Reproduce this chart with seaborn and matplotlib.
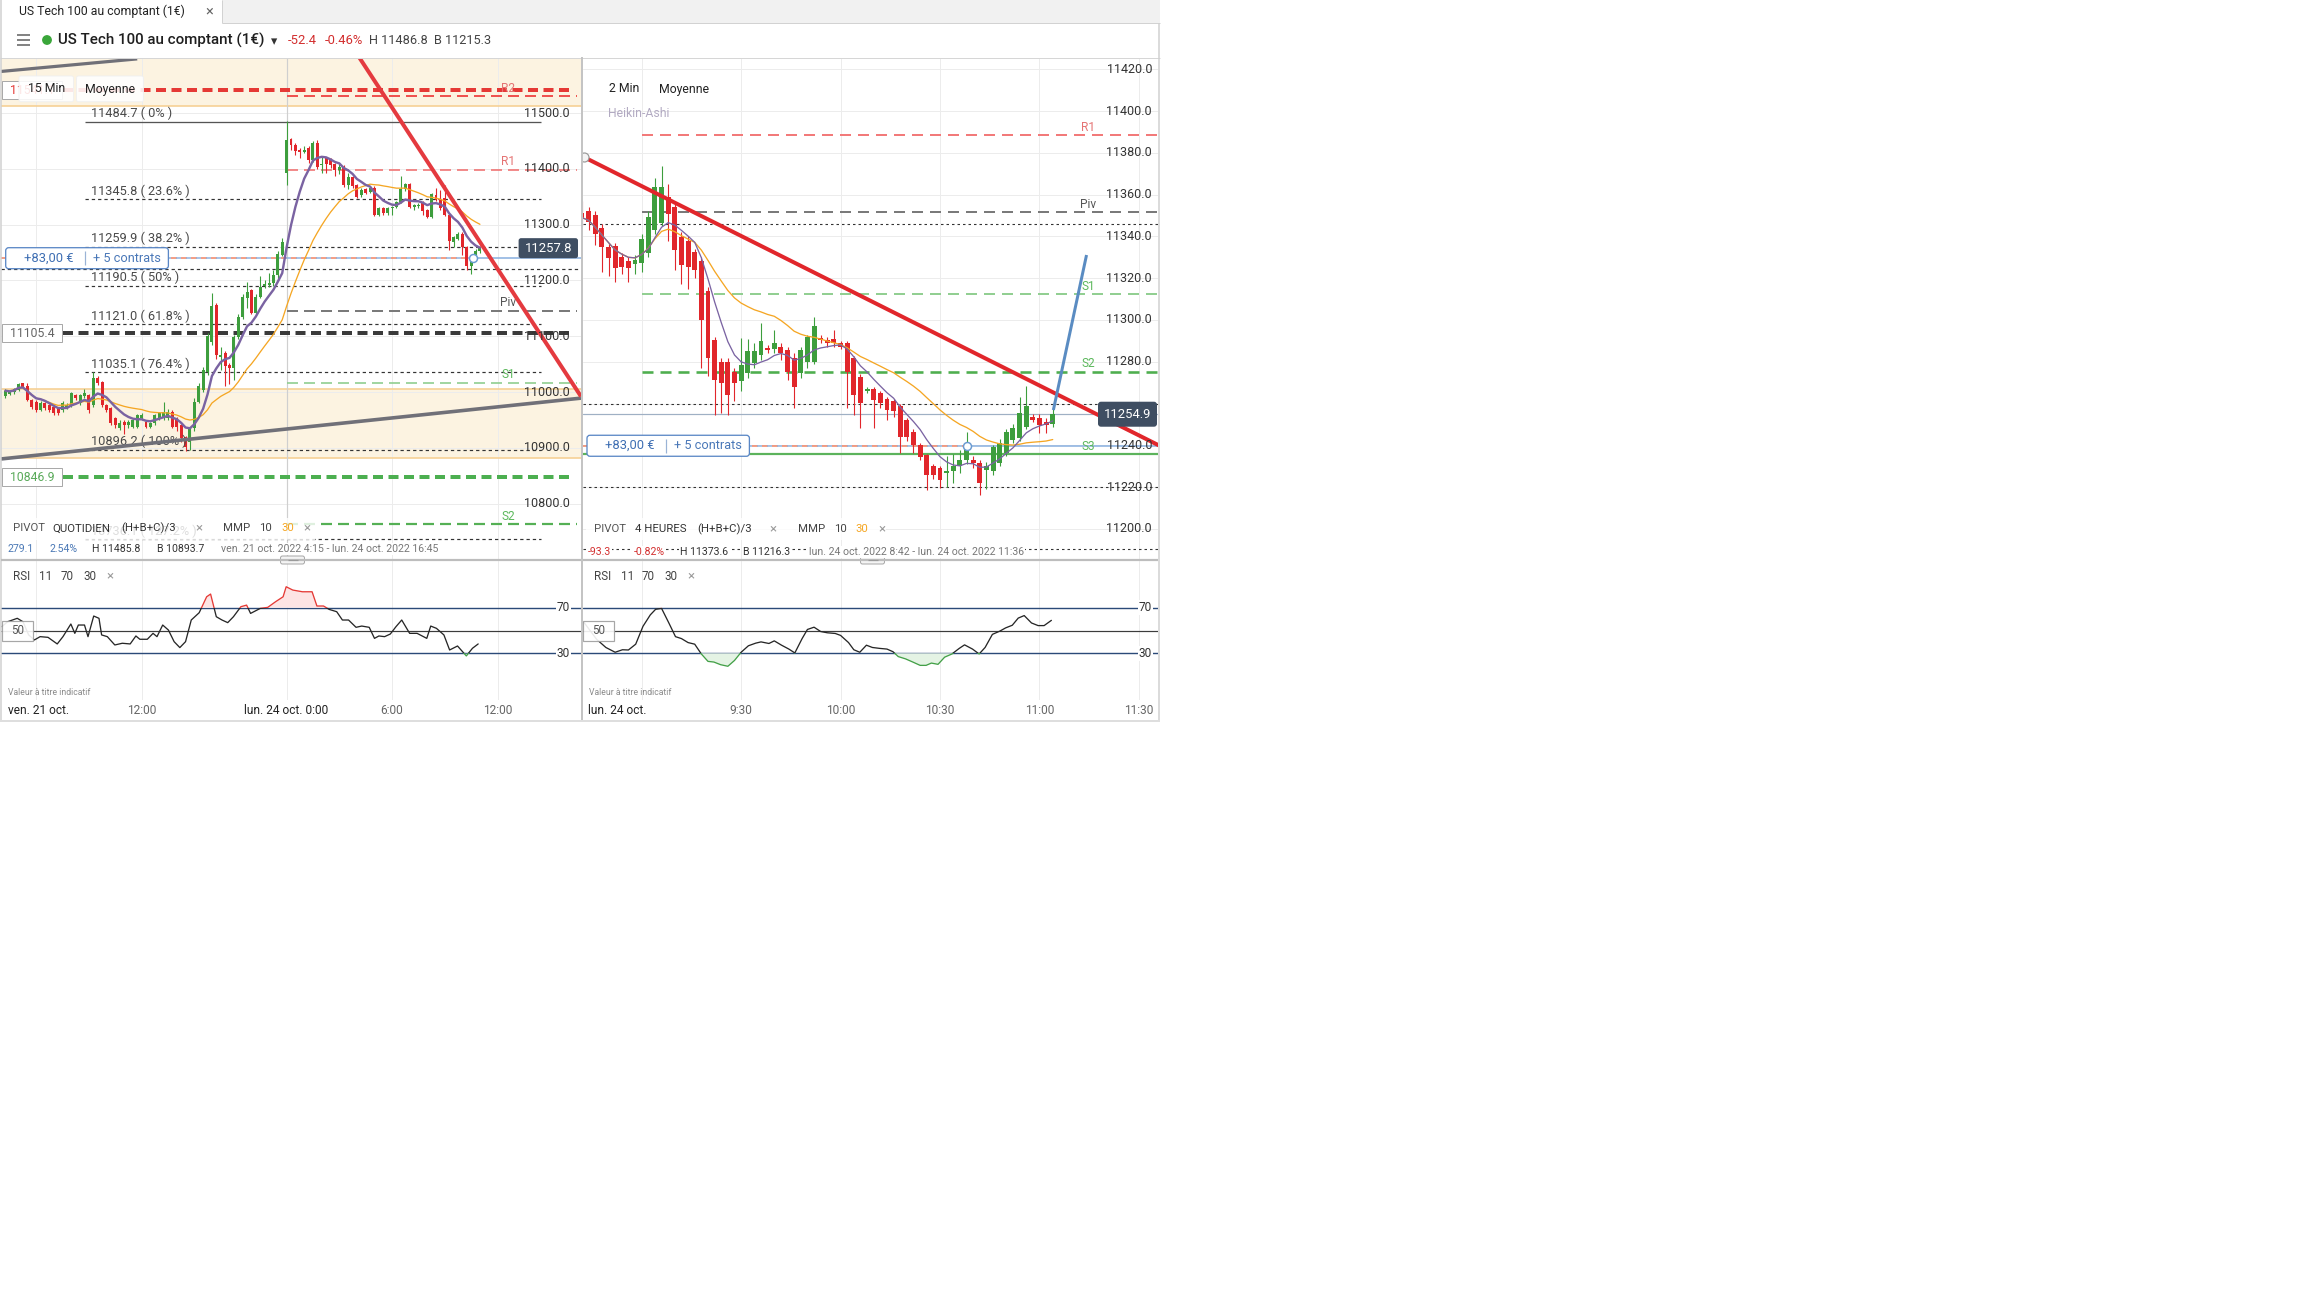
import numpy as np
import pandas as pd
import matplotlib
matplotlib.use("Agg")
import matplotlib.pyplot as plt
import seaborn as sns
from matplotlib.patches import Rectangle, FancyBboxPatch, Circle

sns.set_theme(style="white")
plt.rcParams["font.family"] = ["Roboto", "DejaVu Sans"]
plt.rcParams["lines.scale_dashes"] = False

W, H = 2304, 1296

# ---------------- 15-minute candles: ven. 21 oct. 4:15 -> lun. 24 oct. 11:00 ----------------
# slot index in 15-minute steps, lun. 24 oct. 0:00 is slot 65
m15_pos = list(range(1, 110))
m15_open = [
    10992.8, 10996.4, 10999.4, 11003.5, 11015.5, 11011.0, 10985.6, 10982.6, 10967.7, 10979.6,
    10976.6, 10973.7, 10970.7, 10967.7, 10973.7, 10976.6, 10994.6, 10979.6, 10992.8, 10994.6,
    10976.6, 11024.4, 11018.5, 10976.6, 10970.7, 10952.8, 10934.8, 10946.8, 10940.8, 10937.8,
    10937.8, 10952.8, 10946.8, 10937.8, 10943.8, 10952.8, 10952.8, 10952.8, 10964.7, 10952.8,
    10940.8, 10919.9, 10910.9, 10934.8, 10982.6, 11004.0, 11036.0, 11090.0, 11156.0, 11063.6,
    11070.0, 11049.0, 11043.0, 11099.0, 11135.0, 11168.0, 11182.0, 11142.0, 11171.0, 11190.0,
    11192.0, 11195.0, 11209.0, 11246.0, 11393.0, 11453.0, 11443.0, 11434.0, 11430.0, 11437.0,
    11416.0, 11446.0, 11406.0, 11419.0, 11416.0, 11408.0, 11398.0, 11404.0, 11371.0, 11386.0,
    11371.0, 11353.0, 11364.0, 11359.0, 11365.0, 11318.0, 11330.0, 11320.0, 11330.0, 11332.0,
    11340.0, 11364.0, 11372.0, 11332.0, 11334.0, 11340.0, 11326.0, 11314.0, 11353.0, 11346.0,
    11347.0, 11317.0, 11268.0, 11275.0, 11284.0, 11259.0, 11225.0, 11241.0, 11253.0]
m15_high = [
    11006, 11004, 11008, 11016.7, 11017, 11016, 10988, 10985, 10984, 10982,
    10979, 10976, 10973, 10983, 10980, 11000, 10997, 10997, 11005, 10997,
    11036.4, 11028, 11020, 10979, 10973, 10955, 10950, 10949, 10950, 10952,
    10961, 10962, 10949, 10946, 10961, 10964, 10982.6, 10970, 10967, 10955,
    10943, 10922, 10938, 10990, 11016, 11045, 11105, 11177, 11160, 11080,
    11073, 11052, 11102, 11140, 11176, 11198, 11185, 11176, 11208, 11200,
    11213, 11218, 11252, 11276, 11485.8, 11456, 11446, 11437, 11440, 11440,
    11450, 11451, 11422, 11422, 11420, 11410, 11410, 11406, 11392, 11388,
    11373, 11365, 11366, 11368, 11370, 11332, 11332, 11332, 11333, 11342,
    11388, 11375, 11374, 11337, 11338, 11342, 11328, 11356, 11366, 11362,
    11371, 11320, 11280, 11286, 11286, 11261, 11243, 11256, 11261]
m15_low = [
    10990, 10994, 10997, 11002, 11007, 10983, 10970, 10965, 10966, 10968,
    10965, 10958, 10958, 10965, 10970, 10974, 10985, 10976, 10990, 10962,
    10974, 11012, 10973, 10964, 10940, 10935, 10932, 10924.7, 10936, 10935,
    10935, 10950, 10935, 10935, 10941, 10950, 10950, 10950, 10935, 10930,
    10910, 10893.7, 10896, 10930, 10980, 11000, 11030, 11085, 11060, 11040,
    11010, 11015, 11022, 11095, 11130, 11150, 11140, 11140, 11168, 11186,
    11188, 11190, 11200, 11244, 11371, 11434, 11425, 11419, 11428, 11410,
    11413, 11400, 11392, 11392, 11402, 11387, 11390, 11367, 11363, 11366,
    11347, 11350, 11354, 11356, 11316, 11315, 11318, 11318, 11318, 11330,
    11338, 11360, 11330, 11326, 11330, 11318, 11312, 11312, 11342, 11327,
    11316, 11254, 11260, 11272, 11245, 11218, 11212, 11238, 11250]
m15_close = [
    11002.3, 11000.5, 11004.7, 11014.3, 11009.5, 10985.6, 10973.7, 10967.7, 10980.8, 10970.7,
    10967.7, 10961.7, 10961.7, 10979.6, 10976.6, 10997.6, 10988.6, 10994.6, 10997.6, 10967.7,
    11024.4, 11015.5, 10976.6, 10967.7, 10943.8, 10940.8, 10943.8, 10940.8, 10946.8, 10949.8,
    10958.7, 10958.7, 10937.8, 10943.8, 10958.7, 10961.7, 10964.7, 10964.7, 10937.8, 10937.8,
    10916.9, 10902.0, 10934.8, 10982.6, 11010.0, 11040.0, 11100.0, 11154.0, 11067.0, 11066.6,
    11046.0, 11043.0, 11099.0, 11135.0, 11171.0, 11180.0, 11142.0, 11171.0, 11189.0, 11194.0,
    11196.0, 11210.0, 11248.0, 11268.0, 11451.0, 11443.0, 11432.0, 11431.0, 11434.0, 11416.0,
    11446.0, 11404.0, 11408.0, 11408.0, 11407.0, 11398.0, 11404.0, 11371.0, 11386.0, 11370.0,
    11350.0, 11362.0, 11356.0, 11365.0, 11318.0, 11330.0, 11320.0, 11330.0, 11331.0, 11340.0,
    11364.0, 11372.0, 11332.0, 11335.0, 11336.0, 11325.0, 11314.0, 11354.0, 11344.0, 11329.0,
    11318.0, 11270.0, 11278.0, 11284.0, 11259.0, 11225.0, 11241.0, 11253.0, 11257.8]

# ---------------- 2-minute Heikin-Ashi candles: lun. 24 oct. 8:42 -> 11:04 ----------------
m2_pos = list(range(0, 72))
m2_open = [
    11351.0, 11352.0, 11350.2, 11343.9, 11335.1, 11335.6, 11330.3, 11328.4, 11326.6, 11327.1,
    11331.9, 11343.1, 11346.3, 11359.0, 11354.2, 11339.9, 11337.8, 11332.4, 11328.0, 11314.0,
    11290.5, 11280.1, 11280.1, 11275.3, 11270.9, 11274.8, 11279.3, 11283.3, 11286.5, 11286.0,
    11287.3, 11285.7, 11281.7, 11274.5, 11280.0, 11280.1, 11291.3, 11290.5, 11290.8, 11288.9,
    11288.9, 11281.7, 11272.9, 11266.2, 11266.9, 11264.9, 11262.1, 11261.0, 11258.6, 11252.2,
    11246.6, 11240.2, 11235.4, 11229.9, 11229.1, 11226.7, 11227.5, 11229.9, 11233.0, 11233.0,
    11231.4, 11228.3, 11227.5, 11231.4, 11236.2, 11242.6, 11243.4, 11249.0, 11253.8, 11253.0,
    11251.4, 11250.3]
m2_high = [
    11357, 11354, 11352, 11346, 11337, 11337, 11332, 11330, 11331, 11341,
    11352, 11368, 11373.6, 11365, 11356, 11342, 11340, 11334, 11330, 11316,
    11292, 11282, 11282, 11277, 11291.3, 11290.8, 11289, 11298.4, 11288, 11295.2,
    11289, 11287, 11284, 11287, 11293, 11301.6, 11293, 11292, 11295.2, 11290,
    11290, 11283, 11274, 11268, 11268, 11266, 11263, 11262, 11260, 11253,
    11248, 11241, 11236, 11231, 11230, 11235, 11236, 11238, 11246.6, 11235,
    11233, 11232, 11240, 11243, 11248, 11250, 11263.3, 11268.4, 11255, 11255,
    11253, 11257.8]
m2_low = [
    11345, 11343, 11336, 11323, 11321, 11318, 11322, 11318, 11322, 11323,
    11330, 11341, 11345, 11337.8, 11324, 11317, 11315, 11320, 11277, 11273,
    11254.6, 11255.4, 11254.6, 11261, 11266, 11272, 11277, 11281, 11284, 11284,
    11281, 11271.3, 11257.8, 11272, 11277, 11279, 11289, 11287, 11287, 11286,
    11257.8, 11254.6, 11248.2, 11265, 11248.2, 11258, 11252.2, 11253.8, 11236.2, 11242,
    11236.2, 11233, 11218.7, 11224, 11219.5, 11220, 11222, 11227, 11231, 11229,
    11216.3, 11219, 11226, 11230, 11235, 11241, 11242, 11248, 11251, 11245.8,
    11245.8, 11249]
m2_close = [
    11349.0, 11347.0, 11341.1, 11335.1, 11329.8, 11324.7, 11325.5, 11324.7, 11328.7, 11338.8,
    11349.4, 11363.5, 11363.6, 11350.6, 11333.5, 11326.3, 11325.5, 11324.0, 11300.0, 11281.7,
    11271.3, 11269.7, 11264.1, 11269.7, 11278.5, 11285.2, 11285.2, 11290.0, 11285.7, 11289.2,
    11284.1, 11275.3, 11268.1, 11285.7, 11291.7, 11297.2, 11290.5, 11288.9, 11288.9, 11287.3,
    11275.3, 11264.1, 11260.2, 11266.9, 11261.8, 11260.2, 11257.0, 11256.6, 11244.2, 11244.2,
    11240.2, 11234.6, 11225.9, 11225.9, 11223.5, 11227.5, 11229.9, 11233.0, 11239.4, 11231.4,
    11221.9, 11229.9, 11239.4, 11241.0, 11246.6, 11248.2, 11255.4, 11258.6, 11252.2, 11249.8,
    11249.8, 11254.9]

# ---------------- RSI 11 readings ----------------
rsi15_pos = [0.2, 1.5, 3.7, 5.0, 6.3, 7.6, 8.9, 10.7, 12.8, 14.1, 15.9, 16.8, 17.6, 19.0, 19.8,
             21.1, 22.3, 22.9, 24.2, 25.9, 27.6, 29.4, 30.7, 31.6, 33.3, 34.6, 35.5, 36.8, 38.1,
             39.4, 40.7, 42.0, 43.3, 45.1, 46.8, 47.7, 49.0, 50.3, 51.6, 52.9, 54.6, 55.9, 56.8,
             59.0, 60.7, 62.5, 64.2, 64.9, 66.4, 68.6, 70.8, 71.9, 73.4, 74.7, 76.4, 77.7, 79.1,
             80.8, 82.1, 83.8, 85.0, 86.0, 87.3, 88.6, 89.9, 91.2, 93.0, 94.7, 96.9, 97.8, 99.1,
             100.8, 102.1, 103.9, 105.9, 107.3, 108.6]
rsi15_val = [53.4, 57.7, 60.7, 57.7, 46.1, 41.7, 44.6, 44.0, 38.2, 44.6, 55.7, 47.5, 54.8, 54.8,
             44.6, 62.7, 60.7, 46.1, 44.6, 37.3, 38.8, 38.2, 45.2, 42.3, 42.3, 47.5, 44.6, 54.8,
             50.4, 40.2, 35.0, 40.2, 59.2, 65.6, 79.6, 82.0, 62.1, 59.2, 56.9, 62.1, 70.9, 72.3,
             65.0, 69.4, 70.3, 75.3, 79.6, 88.4, 85.5, 84.0, 84.0, 71.5, 71.5, 68.5, 66.5, 59.2,
             59.2, 52.8, 53.9, 52.8, 43.1, 45.2, 44.6, 46.9, 53.4, 59.2, 47.5, 47.5, 43.1, 53.9,
             51.9, 46.1, 32.9, 36.4, 27.7, 34.4, 38.2]
rsi2_pos = [0.3, 2.2, 3.6, 5.0, 6.1, 7.0, 8.1, 9.2, 10.3, 11.1, 12.0, 13.1, 14.1, 15.0, 16.0,
            17.0, 18.0, 19.0, 19.9, 20.9, 22.0, 23.0, 24.0, 25.1, 26.2, 27.0, 28.2, 29.0, 30.1,
            31.2, 32.1, 33.2, 34.0, 35.0, 36.0, 37.0, 38.2, 39.0, 40.2, 41.0, 41.9, 42.9, 43.8,
            44.9, 46.0, 46.9, 47.7, 48.8, 49.9, 51.0, 51.9, 52.7, 53.7, 54.7, 55.8, 56.9, 57.7,
            58.9, 59.9, 60.8, 61.9, 63.0, 63.9, 64.9, 65.8, 66.7, 67.8, 68.8, 69.7, 70.8]
rsi2_val = [57.1, 42.3, 35.1, 30.9, 33.1, 32.9, 38.0, 53.7, 63.7, 68.6, 69.4, 56.6, 44.6, 42.9,
            39.4, 38.0, 29.4, 22.9, 22.3, 20.0, 18.6, 23.7, 30.9, 36.6, 38.9, 40.0, 38.6, 40.9,
            37.1, 33.7, 30.3, 42.9, 50.9, 52.9, 49.1, 48.0, 47.4, 45.7, 39.4, 33.1, 30.9, 37.1,
            35.1, 34.3, 33.7, 31.4, 27.1, 25.1, 22.3, 19.4, 19.4, 21.4, 20.3, 26.6, 29.4, 34.3,
            37.4, 33.7, 29.4, 35.1, 46.6, 49.4, 52.3, 54.6, 60.9, 63.1, 56.6, 54.3, 54.3, 58.9]

# ---------------- levels ----------------
fib_levels = [11484.7, 11345.8, 11259.9, 11190.5, 11121.0, 11035.1, 10896.2, 10736.1]
fib_names = ["0%", "23.6%", "38.2%", "50%", "61.8%", "76.4%", "100%", "127.2%"]
day_pivot_names = ["R2", "R1", "Piv", "S1", "S2"]
day_pivot_levels = [11529.6, 11398.5, 11145.7, 11016.5, 10763.0]
h4_pivot_names = ["R1", "Piv", "S1", "S2", "S3"]
h4_pivot_levels = [11388.5, 11351.5, 11312.3, 11275.3, 11235.7]
order_levels = [11541.1, 11105.4, 10846.9]
order_colors = ["#e53935", "#3a3a3a", "#4caf50"]
order_text_colors = ["#e53935", "#666666", "#5aaa5a"]
zone_top = (11512.5, 11700.0)
zone_low = (10881.0, 11006.0)
position_level = 11239.8
stop_level = 11220.0
last_15 = 11257.8
last_2 = 11254.9
left_price_ticks = [10800, 10900, 11000, 11100, 11200, 11300, 11400, 11500]
right_price_ticks = [11200, 11220, 11240, 11260, 11280, 11300, 11320, 11340, 11360, 11380, 11400, 11420]
right_price_labels = [11200, 11220, 11240, 11280, 11300, 11320, 11340, 11360, 11380, 11400, 11420]
t15_ticks = [8, 32, 65, 89, 113]
t15_labels = ["", "12:00", "lun. 24 oct. 0:00", "6:00", "12:00"]
t2_ticks = [9, 24, 39, 54, 69, 84]
t2_labels = ["", "9:30", "10:00", "10:30", "11:00", "11:30"]
# drawn trend lines (slot, price)
red15_x, red15_y = [81.5, 132.0], [11600.0, 10992.0]
grey15_low_x, grey15_low_y = [0.0, 132.0], [10880.0, 10989.0]
grey15_top_x, grey15_top_y = [0.0, 31.0], [11574.5, 11597.0]
red2_x, red2_y = [0.26, 87.0], [11378.0, 11240.0]
blue2_x, blue2_y = [71.1, 76.1], [11256.9, 11331.1]

GREEN = "#3d9e3d"
RED = "#e1262b"
PURPLE = "#7a63a2"
ORANGE = "#f5a623"
GRID = "#ececec"
BEIGE = "#fcf3e1"
NAVY = "#2b4a78"


def P(px):
    return px * 0.72


def frac(x0, y0, x1, y1):
    return [x0 / W, 1 - y1 / H, (x1 - x0) / W, (y1 - y0) / H]


def wma(values, n):
    s = pd.Series(values, dtype=float)
    return s.rolling(n, min_periods=1).apply(
        lambda w: np.dot(w, np.arange(1, len(w) + 1)) / np.arange(1, len(w) + 1).sum(),
        raw=True).to_numpy()


def candles(ax, pos, o, h, l, c, width, min_body):
    pos, o, h, l, c = (np.asarray(a, float) for a in (pos, o, h, l, c))
    up = c >= o
    col = np.where(up, GREEN, RED)
    ax.vlines(pos, l, h, colors=col, linewidth=P(1.1), zorder=3)
    body = c - o
    body = np.where(np.abs(body) < min_body, np.where(up, min_body, -min_body), body)
    ax.bar(pos, body, bottom=o, width=width, color=col, linewidth=0, zorder=4)


def clean(ax):
    for s in ax.spines.values():
        s.set_visible(False)
    ax.set_facecolor("none")
    ax.tick_params(length=0, labelleft=False, labelbottom=False)
    ax.set_xlabel("")
    ax.set_ylabel("")


fig = plt.figure(figsize=(W / 100, H / 100), dpi=100)
fig.patch.set_facecolor("white")

# ====================== left: 15 minutes ======================
axL = fig.add_axes(frac(1, 58, 581, 559))
L_X = (0, 132)
L_Y = (10700.7, 11598.6)
axL.axhspan(*zone_top, color=BEIGE, lw=0, zorder=0.2)
axL.axhspan(*zone_low, color=BEIGE, lw=0, zorder=0.2)
for lv in (zone_top[0], zone_low[0], zone_low[1]):
    axL.axhline(lv, color="#f6cf92", lw=P(1.6), zorder=0.6)
axL.set_xticks(t15_ticks)
axL.set_yticks(left_price_ticks)
axL.grid(True, color=GRID, lw=P(1))
axL.axvline(65, color="#cfcfcf", lw=P(1.2), zorder=0.7)

# fibonacci retracement
for lv, nm in zip(fib_levels, fib_names):
    if nm == "0%":
        axL.hlines(lv, 19.1, 123.0, color="#555555", lw=P(1.3), zorder=2)
    else:
        axL.hlines(lv, 19.1, 123.0, color="#333333", lw=P(1.2), linestyles=[(0, (P(3.3), P(3)))], zorder=2)
    axL.annotate(f"{lv:.1f} ( {nm} )", xy=(20.5, lv), xytext=(0, P(1.5)), textcoords="offset points",
                 ha="left", va="bottom", fontsize=9.2, color="#4a4a4a", zorder=6)
axL.hlines(stop_level, 0, 132, color="#333333", lw=P(1.2), linestyles=[(0, (P(3.3), P(3)))], zorder=2)

# daily pivots (from lun. 0:00)
piv_style = {"R2": ("#ef5350", 2.0), "R1": ("#f07070", 1.6), "Piv": ("#7a7a7a", 2.0),
             "S1": ("#8ccc8c", 1.6), "S2": ("#55b055", 2.2)}
for nm, lv in zip(day_pivot_names, day_pivot_levels):
    c, w = piv_style[nm]
    axL.hlines(lv, 65, 131, color=c, lw=P(w), linestyles=[(0, (P(11), P(6)))], zorder=2)
    tc = "#e57373" if nm.startswith("R") else ("#555555" if nm == "Piv" else "#5cb85c")
    axL.annotate(nm, xy=(115.4, lv), xytext=(0, P(1.5)), textcoords="offset points",
                 ha="center", va="bottom", fontsize=8.6, color=tc, zorder=6)

# order lines
for lv, c in zip(order_levels, order_colors):
    axL.hlines(lv, 14.0, 130.4, color=c, lw=P(4), linestyles=[(0, (P(10), P(5.5)))], zorder=2.5)

# position line
axL.hlines(position_level, 0, 107.5, color="#f08060", lw=P(1.5), linestyles=[(0, (P(6), P(4)))], zorder=2.6)
axL.hlines(position_level, 0, 107.5, color="#8db2e0", lw=P(1.5), linestyles=[(P(5), (P(5), P(5)))], zorder=2.6)
axL.hlines(position_level, 107.5, 132, color="#8db2e0", lw=P(1.6), zorder=2.6)

candles(axL, m15_pos, m15_open, m15_high, m15_low, m15_close, 0.68, 1.8)

ma10_15 = wma(m15_close, 10)
ma30_15 = wma(m15_close, 30)
sns.lineplot(x=m15_pos, y=ma30_15, ax=axL, color=ORANGE, linewidth=P(1.3), zorder=5)
sns.lineplot(x=m15_pos, y=ma10_15, ax=axL, color=PURPLE, linewidth=P(2.4), zorder=5)

axL.plot(grey15_top_x, grey15_top_y, color="#707078", lw=P(3.2), solid_capstyle="butt", zorder=6)
axL.plot(grey15_low_x, grey15_low_y, color="#707078", lw=P(3.6), solid_capstyle="butt", zorder=6)
axL.plot(red15_x, red15_y, color="#e43a3f", lw=P(4), solid_capstyle="butt", zorder=6)
axL.plot([107.5], [position_level], marker="o", ms=P(8), mfc="white", mec="#6b9bd1", mew=P(1.5), zorder=7)

for t in left_price_ticks:
    axL.text(0.981, t, f"{t:.1f}", transform=axL.get_yaxis_transform(), ha="right", va="center",
             fontsize=9, color="#333333", zorder=8)
clean(axL)
axL.set_xlim(*L_X)
axL.set_ylim(*L_Y)

# ====================== right: 2 minutes ======================
axR = fig.add_axes(frac(583, 58, 1158, 559))
R_X = (0.15, 86.88)
R_Y = (11185.6, 11425.4)
axR.set_xticks(t2_ticks)
axR.set_yticks(right_price_ticks)
axR.grid(True, color=GRID, lw=P(1))

for lv in (11345.8, 11259.9, 11190.5):
    axR.axhline(lv, color="#333333", lw=P(1.1), ls=(0, (P(2.5), P(3))), zorder=2)
axR.axhline(stop_level, color="#333333", lw=P(1.1), ls=(0, (P(2.5), P(3))), zorder=2)
axR.axhline(last_2, color="#9fb0c4", lw=P(1.2), zorder=2)

h4_style = {"R1": ("#f27a7a", 2.0), "Piv": ("#7a7a7a", 2.0), "S1": ("#92cf92", 2.0), "S2": ("#4fae4f", 2.6)}
for nm, lv in zip(h4_pivot_names, h4_pivot_levels):
    if nm == "S3":
        axR.hlines(lv, 0, 87, color="#5cb35c", lw=P(2.2), zorder=2)
    else:
        c, w = h4_style[nm]
        axR.hlines(lv, 9, 87, color=c, lw=P(w), linestyles=[(0, (P(11), P(7)))], zorder=2)
    tc = "#e57373" if nm.startswith("R") else ("#555555" if nm == "Piv" else "#5cb85c")
    axR.annotate(nm, xy=(76.3, lv), xytext=(0, P(1.5)), textcoords="offset points",
                 ha="center", va="bottom", fontsize=8.6, color=tc, zorder=6)

axR.hlines(position_level, 0, 58, color="#f08060", lw=P(1.5), linestyles=[(0, (P(6), P(4)))], zorder=2.6)
axR.hlines(position_level, 0, 58, color="#8db2e0", lw=P(1.5), linestyles=[(P(5), (P(5), P(5)))], zorder=2.6)
axR.hlines(position_level, 58, 87, color="#8db2e0", lw=P(1.6), zorder=2.6)

candles(axR, m2_pos, m2_open, m2_high, m2_low, m2_close, 0.74, 0.5)

ma10_2 = wma(m2_close, 10)
ma30_2 = wma(m2_close, 30)
sns.lineplot(x=m2_pos, y=ma30_2, ax=axR, color=ORANGE, linewidth=P(1.3), zorder=5)
sns.lineplot(x=m2_pos, y=ma10_2, ax=axR, color=PURPLE, linewidth=P(1.3), zorder=5)

axR.plot(red2_x, red2_y, color="#e1262b", lw=P(4), solid_capstyle="butt", zorder=6)
axR.plot(blue2_x, blue2_y, color="#5a8cc2", lw=P(3), solid_capstyle="butt", zorder=6)
axR.plot([red2_x[0]], [red2_y[0]], marker="o", ms=P(9), mfc="#f4f4f4", mec="#9a9a9a", mew=P(1.2), zorder=7)
axR.plot([58], [position_level], marker="o", ms=P(8), mfc="white", mec="#6b9bd1", mew=P(1.5), zorder=7)

for t in right_price_labels:
    axR.text(0.9896, t, f"{t:.1f}", transform=axR.get_yaxis_transform(), ha="right", va="center",
             fontsize=9, color="#333333", zorder=8)
clean(axR)
axR.set_xlim(*R_X)
axR.set_ylim(*R_Y)


# ====================== RSI panels ======================
def rsi_panel(ax, xs, vals, xlim, ticks, labels, lab_colors, label_x):
    xs = np.asarray(xs, float)
    vals = np.asarray(vals, float)
    ax.set_xticks(ticks)
    ax.grid(True, axis="x", color=GRID, lw=P(1))
    ax.axhline(70, color=NAVY, lw=P(1.4), zorder=1)
    ax.axhline(30, color=NAVY, lw=P(1.4), zorder=1)
    ax.axhline(50, color="#3c3c3c", lw=P(1.2), zorder=1)
    ax.fill_between(xs, 70, vals, where=vals > 70, interpolate=True, color="#fde4e4", lw=0, zorder=2)
    ax.fill_between(xs, 30, vals, where=vals < 30, interpolate=True, color="#e4f3e4", lw=0, zorder=2)
    for lo, hi, col in [(30, 70, "#262626"), (70, 300, "#e53935"), (-300, 30, "#43a047")]:
        sns.lineplot(x=xs, y=vals, ax=ax, color=col, linewidth=P(1.3), zorder=4)
        ln = ax.lines[-1]
        ln.set_clip_path(Rectangle((-50, lo), 300, hi - lo, transform=ax.transData))
    for v in (70, 30):
        ax.text(label_x, v, f"{v}", transform=ax.get_yaxis_transform(),
                ha="right", va="center", fontsize=8.6, color="#333333", zorder=8,
                bbox=dict(fc="white", ec="none", pad=0.6))
    clean(ax)
    ax.set_xticks(ticks)
    ax.set_xticklabels(labels)
    ax.tick_params(axis="x", labelbottom=True, pad=3.2, labelsize=8.6)
    for lab, c in zip(ax.get_xticklabels(), lab_colors):
        lab.set_color(c)
    ax.set_xlim(*xlim)
    ax.set_ylim(-11, 111)


rL = fig.add_axes(frac(1, 561, 581, 700))
rsi_panel(rL, rsi15_pos, rsi15_val, L_X, t15_ticks, t15_labels,
          ["#555", "#666", "#222", "#666", "#666"], 0.981)
rR = fig.add_axes(frac(583, 561, 1158, 700))
rsi_panel(rR, rsi2_pos, rsi2_val, R_X, t2_ticks, t2_labels,
          ["#555", "#666", "#666", "#666", "#666", "#666"], 0.9896)

# ====================== overlay: frame, header, legends, tags ======================
ov = fig.add_axes([0, 0, 1, 1])
ov.set_zorder(20)
ov.set_xlim(0, W)
ov.set_ylim(H, 0)
ov.axis("off")


def py(ax, y):
    return H - ax.transData.transform((0, y))[1]


def T(x, y, s, size=8.5, color="#333333", ha="left", va="center", **kw):
    return ov.text(x, y, s, fontsize=size, color=color, ha=ha, va=va, **kw)


def hl(x0, x1, y, color, lw=1.0):
    ov.plot([x0, x1], [y, y], color=color, lw=P(lw), solid_capstyle="butt")


def vl(x, y0, y1, color, lw=1.0):
    ov.plot([x, x], [y0, y1], color=color, lw=P(lw), solid_capstyle="butt")


# tab bar
ov.add_patch(Rectangle((222, 0), 938, 23, fc="#f1f1f1", ec="none"))
hl(222, 1160, 23, "#d2d2d2")
vl(222, 0, 23, "#d2d2d2")
T(19, 11, "US Tech 100 au comptant (1€)", 8.8, "#222222")
T(209.7, 11, "×", 10.5, "#666666", ha="center")

# header row
for yy in (35, 40, 45):
    hl(17, 30, yy, "#666666", 1.6)
ov.add_patch(Circle((47, 40), 4.2, color="#3aa63a"))
T(58, 40, "US Tech 100 au comptant (1€)", 10.9, "#1f1f1f", fontweight="medium")
T(273.6, 42, "▾", 9, "#333333", ha="center", family=["DejaVu Sans"])
T(288, 40, "-52.4", 9.4, "#d32f2f")
T(325, 40, "-0.46%", 9.4, "#d32f2f")
T(369, 40, "H 11486.8  B 11215.3", 9.2, "#444444")
hl(0, 1160, 57.5, "#d6d6d6")

# panel frames
vl(0.8, 0, 720, "#d0d0d0", 1.5)
vl(582, 57, 720, "#c4c4c4", 2)
vl(1159, 23, 720, "#d0d0d0", 1.5)
hl(0, 1160, 720.5, "#d4d4d4", 1.5)
hl(1, 581, 560, "#bdbdbd", 2.2)
hl(583, 1158, 560, "#bdbdbd", 2.2)
for hx in (280.5, 860.5):
    ov.add_patch(FancyBboxPatch((hx, 556), 24, 8, boxstyle="round,pad=0,rounding_size=2",
                                fc="#f4f4f4", ec="#a8a8a8", lw=P(1)))
    hl(hx + 7, hx + 17, 560, "#9a9a9a", 1.2)

# order label boxes (left)
for lv, tc in zip(order_levels, order_text_colors):
    yc = py(axL, lv)
    ov.add_patch(Rectangle((2, yc - 9), 60, 18, fc="white", ec="#a9a9a9", lw=P(1), zorder=2))
    T(32, yc, f"{lv:.1f}", 8.8, tc, ha="center", zorder=3)

# chart-type boxes (left), drawn over the red order label
for x0, x1, s in ((19, 73.5, "15 Min"), (76.5, 143.5, "Moyenne")):
    ov.add_patch(FancyBboxPatch((x0, 76), x1 - x0, 25.7, boxstyle="round,pad=0,rounding_size=2",
                                fc="white", ec="#f0f0f0", lw=P(1), alpha=0.88, zorder=4))
    T((x0 + x1) / 2, 89, s, 8.8, "#222222", ha="center", zorder=5)
# chart-type labels (right)
T(609, 89, "2 Min", 8.8, "#222222")
T(659, 89, "Moyenne", 8.8, "#222222")
T(607.7, 113.3, "Heikin-Ashi", 8.8, "#b2aac2")

# last price tags
yc = py(axL, last_15)
ov.add_patch(FancyBboxPatch((518.6, yc - 10), 59.4, 20, boxstyle="round,pad=0,rounding_size=2.5",
                            fc="#3f4e62", ec="none"))
T(548.3, yc, f"{last_15:.1f}", 9.4, "white", ha="center")
yc = py(axR, last_2)
ov.add_patch(FancyBboxPatch((1098, yc - 12.5), 59, 25, boxstyle="round,pad=0,rounding_size=3",
                            fc="#3f4e62", ec="none"))
T(1127.5, yc, f"{last_2:.1f}", 9.4, "white", ha="center")

# open position tags
for ax_, x0, x1, xa, xs, xb in ((axL, 5.7, 168.4, 49, 85, 93), (axR, 587, 749.4, 630, 666, 674)):
    yc = py(ax_, position_level)
    ov.add_patch(FancyBboxPatch((x0, yc - 10.5), x1 - x0, 21, boxstyle="round,pad=0,rounding_size=3",
                                fc="white", ec="#5a87c6", lw=P(1.3)))
    T(xa, yc, "+83,00 €", 9.4, "#3f6fb3", ha="center")
    vl(xs, yc - 7, yc + 7, "#9ab3d6", 1.2)
    T(xb, yc, "+ 5 contrats", 9.2, "#4a78b8")

# indicator legends
ov.add_patch(Rectangle((5, 518), 310, 22, fc="white", ec="none", alpha=0.82))
ov.add_patch(Rectangle((586, 518), 300, 22, fc="white", ec="none", alpha=0.82))
for x, s, c in ((12.6, "PIVOT", "#555555"), (52.8, "QUOTIDIEN", "#333333"), (121.7, "(H+B+C)/3", "#333333"),
                (223, "MMP", "#444444"), (259, "10", "#444444"), (281, "30", ORANGE)):
    T(x, 528.3, s, 8.2, c)
T(199, 528.3, "×", 9.5, "#9a9a9a", ha="center")
T(307, 528.3, "×", 9.5, "#9a9a9a", ha="center")
for x, s, c in ((594, "PIVOT", "#555555"), (634.8, "4 HEURES", "#333333"), (697.6, "(H+B+C)/3", "#333333"),
                (798, "MMP", "#444444"), (834.5, "10", "#444444"), (855.6, "30", ORANGE)):
    T(x, 529, s, 8.2, c)
T(773, 529, "×", 9.5, "#9a9a9a", ha="center")
T(882, 529, "×", 9.5, "#9a9a9a", ha="center")

wb = dict(fc="white", ec="none", pad=0.8)
for x, s, c in ((7.7, "279.1", "#4a78b5"), (49, "2.54%", "#4a78b5"), (92, "H 11485.8", "#333333"),
                (157, "B 10893.7", "#333333"), (220.8, "ven. 21 oct. 2022 4:15 - lun. 24 oct. 2022 16:45", "#777777")):
    T(x, 549, s, 7.6, c, bbox=wb)
for x, s, c in ((588, "-93.3", "#d32f2f"), (633.6, "-0.82%", "#d32f2f"), (680, "H 11373.6", "#333333"),
                (742.8, "B 11216.3", "#333333"), (809, "lun. 24 oct. 2022 8:42 - lun. 24 oct. 2022 11:36", "#777777")):
    T(x, 551.7, s, 7.6, c, bbox=wb)

# RSI legends
for x0 in (0, 581.4):
    for dx, s, c in ((12.6, "RSI", "#444444"), (39.4, "11", "#444444"), (60.5, "70", "#444444"), (83.4, "30", "#444444")):
        T(x0 + dx, 576, s, 8.4, c)
    T(x0 + 109.8, 576, "×", 9.5, "#9a9a9a", ha="center")
    ov.add_patch(Rectangle((x0 + 2, 620.5), 30.5, 20, fc="white", ec="#9e9e9e", lw=P(1.2), alpha=0.9))
    T(x0 + 17.2, 630.5, "50", 8.4, "#555555", ha="center")
    T(x0 + 7.7, 692.7, "Valeur à titre indicatif", 6.2, "#8a8a8a")

T(7.7, 710.7, "ven. 21 oct.", 8.6, "#222222")
T(588, 710.7, "lun. 24 oct.", 8.6, "#222222")

fig.savefig("out.png", dpi=100, facecolor="white")
